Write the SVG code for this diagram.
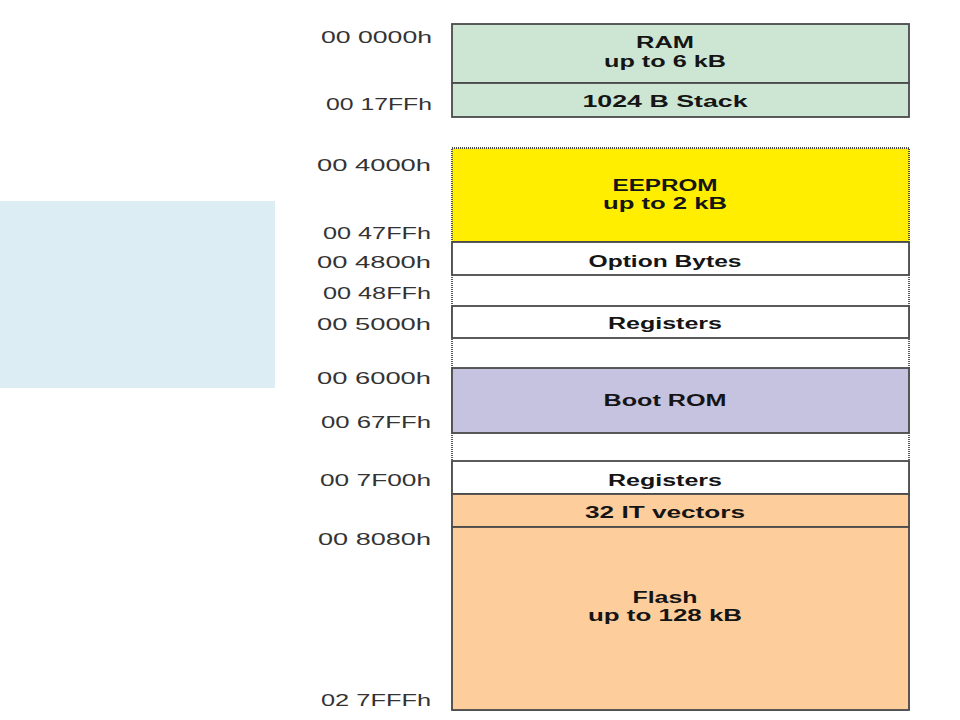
<svg xmlns="http://www.w3.org/2000/svg" width="960" height="720" viewBox="0 0 960 720">
<style>
.addr{font-family:"Liberation Sans",Arial,sans-serif;font-size:16px;fill:#333;text-anchor:end}
.lbl{font-family:"Liberation Sans",Arial,sans-serif;font-size:16px;font-weight:bold;fill:#151515;text-anchor:middle}
.box{stroke:#4a4a4a;stroke-width:1.8}
.dot{fill:none;stroke:#4a4a4a;stroke-width:1.8;stroke-dasharray:1 1}
</style>
<rect x="0" y="0" width="960" height="720" fill="#fff"/>
<rect id="panel" x="0" y="201" width="275" height="187" fill="#dcedf3"/>
<g id="outline">
<rect class="dot" x="452" y="148" width="457" height="562"/>
</g>
<g id="ram">
<rect class="box" x="452" y="24" width="457" height="59" fill="#cde6d4"/>
<text class="lbl" x="665" y="48" textLength="58" lengthAdjust="spacingAndGlyphs">RAM</text>
<text class="lbl" x="665" y="67" textLength="122" lengthAdjust="spacingAndGlyphs">up to 6 kB</text>
</g>
<g id="stack">
<rect class="box" x="452" y="83" width="457" height="34" fill="#cde6d4"/>
<text class="lbl" x="665" y="107" textLength="165" lengthAdjust="spacingAndGlyphs">1024 B Stack</text>
</g>
<g id="eeprom">
<rect x="452" y="148" width="457" height="94" fill="#ffee00"/>
<rect class="dot" x="452" y="148" width="457" height="94"/>
<line class="box" x1="452" y1="242" x2="909" y2="242"/>
<text class="lbl" x="665" y="191" textLength="105" lengthAdjust="spacingAndGlyphs">EEPROM</text>
<text class="lbl" x="665" y="209" textLength="124" lengthAdjust="spacingAndGlyphs">up to 2 kB</text>
</g>
<g id="option">
<rect class="box" x="452" y="242" width="457" height="33" fill="#fff"/>
<text class="lbl" x="665" y="267" textLength="153" lengthAdjust="spacingAndGlyphs">Option Bytes</text>
</g>
<g id="reg1">
<rect class="box" x="452" y="306" width="457" height="32" fill="#fff"/>
<text class="lbl" x="665" y="329" textLength="114" lengthAdjust="spacingAndGlyphs">Registers</text>
</g>
<g id="bootrom">
<rect class="box" x="452" y="368" width="457" height="65" fill="#c6c3e0"/>
<text class="lbl" x="665" y="406" textLength="123" lengthAdjust="spacingAndGlyphs">Boot ROM</text>
</g>
<g id="reg2">
<rect class="box" x="452" y="461" width="457" height="33" fill="#fff"/>
<text class="lbl" x="665" y="486" textLength="114" lengthAdjust="spacingAndGlyphs">Registers</text>
</g>
<g id="vectors">
<rect class="box" x="452" y="494" width="457" height="33" fill="#fecd9c"/>
<text class="lbl" x="665" y="518" textLength="160" lengthAdjust="spacingAndGlyphs">32 IT vectors</text>
</g>
<g id="flash">
<rect class="box" x="452" y="527" width="457" height="183" fill="#fecd9c"/>
<text class="lbl" x="665" y="603" textLength="65" lengthAdjust="spacingAndGlyphs">Flash</text>
<text class="lbl" x="665" y="621" textLength="154" lengthAdjust="spacingAndGlyphs">up to 128 kB</text>
</g>
<g id="addresses">
<text class="addr" x="432" y="43" textLength="111" lengthAdjust="spacingAndGlyphs">00 0000h</text>
<text class="addr" x="432" y="110" textLength="106" lengthAdjust="spacingAndGlyphs">00 17FFh</text>
<text class="addr" x="431" y="171" textLength="114" lengthAdjust="spacingAndGlyphs">00 4000h</text>
<text class="addr" x="431" y="239" textLength="108" lengthAdjust="spacingAndGlyphs">00 47FFh</text>
<text class="addr" x="431" y="268" textLength="114" lengthAdjust="spacingAndGlyphs">00 4800h</text>
<text class="addr" x="431" y="299" textLength="108" lengthAdjust="spacingAndGlyphs">00 48FFh</text>
<text class="addr" x="431" y="330" textLength="114" lengthAdjust="spacingAndGlyphs">00 5000h</text>
<text class="addr" x="431" y="384" textLength="114" lengthAdjust="spacingAndGlyphs">00 6000h</text>
<text class="addr" x="431" y="428" textLength="110" lengthAdjust="spacingAndGlyphs">00 67FFh</text>
<text class="addr" x="431" y="486" textLength="111" lengthAdjust="spacingAndGlyphs">00 7F00h</text>
<text class="addr" x="431" y="545" textLength="113" lengthAdjust="spacingAndGlyphs">00 8080h</text>
<text class="addr" x="431" y="706" textLength="110" lengthAdjust="spacingAndGlyphs">02 7FFFh</text>
</g>
</svg>
